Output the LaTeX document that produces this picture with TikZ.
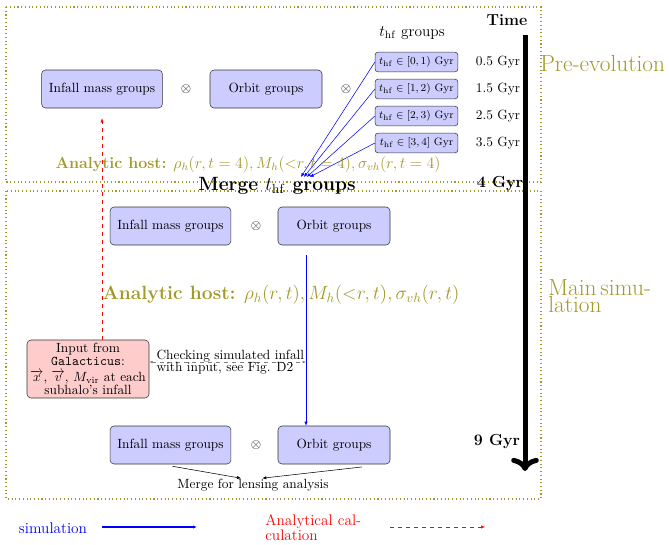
\documentclass[tikz,border=0pt]{standalone}
\usepackage{amsmath,amssymb}
\usetikzlibrary{arrows.meta, positioning, calc}
\definecolor{hostolive}{RGB}{163,152,40}
\definecolor{groupblue}{RGB}{204,204,255}
\definecolor{inputpink}{RGB}{255,204,204}

\tikzset{
  groupbox/.style={draw=black!80, fill=groupblue, rounded corners=3pt, minimum height=28.5pt, minimum width=84pt, inner xsep=5.5pt},
  thfbox/.style={draw=black!80, fill=groupblue, rounded corners=2pt, minimum height=14pt, minimum width=62pt, inner xsep=2pt, font=\footnotesize},
  phasebox/.style={draw=hostolive, dotted, thick},
  simarrow/.style={blue, -{Latex[length=3pt,width=2.5pt]}},
  calcarrow/.style={red, dashed, -{Latex[length=3pt,width=2.5pt]}},
  gyrlabel/.style={font=\large\bfseries},
}

\begin{document}
\begin{tikzpicture}[x=0.75pt, y=-0.75pt]
  \useasboundingbox (0,0) rectangle (669,544);
  % the two phases
  \draw[phasebox] (6,7) rectangle (541,182);
  \draw[phasebox] (6,191) rectangle (541,499);
  \node[text=hostolive, font=\fontsize{17.5}{17.5}\selectfont, anchor=west, inner sep=0pt] (pre) at (540,63) {Pre-evolution};
  \node[text=hostolive, font=\fontsize{17.5}{10.5}\selectfont, anchor=west, align=left, inner sep=0pt] (main) at (548,296) {Main\,simu-\\lation};

  % time axis
  \node[gyrlabel] (time) at (507,20) {Time};
  \coordinate (tstart) at (525,35);
  \coordinate (tend) at (525,471);
  \draw[line width=3.75pt, ->] (tstart) -- (tend);

  % pre-evolution
  \node[groupbox] (infall1) at (102,89) {Infall mass groups};
  \node (times1) at (186,89) {$\otimes$};
  \node[groupbox] (orbit1) at (266,89) {Orbit groups};
  \node (times2) at (346,89) {$\otimes$};
  \node[font=\fontsize{11.5}{12}\selectfont] (thflabel) at (412,33) {$t_{\rm hf}$ groups};
  \coordinate (mergein) at (298,177);
  \foreach \lo/\hi/\cl/\gyr [count=\i] in {0/1/)/0.5, 1/2/)/1.5, 2/3/)/2.5, 3/4/]/3.5} {
    \node[thfbox] (thf\i) at (416.5, 35+27*\i) {$t_{\rm hf}\in[\lo,\hi\cl$ Gyr};
    \node (gyr\i) at (498, 35+27*\i) {\gyr\ Gyr};
    \draw[simarrow] (thf\i.west) -- ([xshift=2.2*\i pt]mergein);
  }
  \node[text=hostolive, font=\large] (host1) at (248,164) {\textbf{Analytic host:} $\rho_h(r,t=4), M_h({<}r,t=4), \sigma_{vh}(r,t=4)$};
  \node[font=\Large\bfseries] (merge) at (277,186) {Merge $t_{\rm hf}$ groups};
  \node[gyrlabel] (gyr4) at (500,184) {4 Gyr};

  % main simulation
  \node[groupbox] (infall2) at (170.5,226) {Infall mass groups};
  \node (times3) at (256,226) {$\otimes$};
  \node[groupbox] (orbit2) at (334,226) {Orbit groups};
  \node[text=hostolive, font=\Large] (host2) at (281,295) {\textbf{Analytic host:} $\rho_h(r,t), M_h({<}r,t), \sigma_{vh}(r,t)$};
  \node[draw=black!80, fill=inputpink, rounded corners=3pt, minimum width=91.5pt, minimum height=43.5pt, align=center, inner sep=1pt, font=\fontsize{10}{9.6}\selectfont] (input) at (88,369) {Input from\\\texttt{Galacticus}:\\[2.5pt]$\overrightarrow{x}$, $\overrightarrow{v}$, $M_{\rm vir}$ at each\\subhalo's infall};

  \node[groupbox] (infall3) at (170.5,445) {Infall mass groups};
  \node (times4) at (256,445) {$\otimes$};
  \node[groupbox] (orbit3) at (334,445) {Orbit groups};
  \node[gyrlabel] (gyr9) at (497,442) {9 Gyr};
  \node (lensing) at (253,485) {Merge for lensing analysis};

  \draw[calcarrow] (input.north -| infall1.south) -- ([yshift=-7.5pt]infall1.south);
  \draw[simarrow] ([xshift=-21pt, yshift=-7pt]orbit2.south) -- ([xshift=-21pt]orbit3.north);
  \coordinate (checkend) at (306,362);
  \draw[gray, dashed, {Latex[length=2.5pt,width=2pt]}-{Latex[length=2.5pt,width=2pt]}] (input.east |- checkend) -- (checkend);
  \node[anchor=west, align=left, inner sep=1pt, font=\fontsize{10}{9}\selectfont] (check) at (155,362) {Checking simulated infall\\with input, see Fig. D2};
  \draw[-{Latex[length=3pt,width=2.5pt]}] ([xshift=1.5pt, yshift=-1.5pt]infall3.south) -- ([xshift=-9pt, yshift=-3pt]lensing.north);
  \draw[-{Latex[length=3pt,width=2.5pt]}] ([xshift=21pt, yshift=-2pt]orbit3.south) -- ([xshift=7pt, yshift=-3pt]lensing.north);

  % legend
  \node[blue, font=\fontsize{11.5}{11}\selectfont] (legsim) at (53,528) {simulation};
  \coordinate (legsimA) at (102,527);
  \coordinate (legsimB) at (197,527);
  \draw[simarrow, thick] (legsimA) -- (legsimB);
  \node[red, font=\fontsize{11.5}{10}\selectfont, anchor=west, align=left, inner sep=0pt] (legcalc) at (265,528) {Analytical cal-\\culation};
  \coordinate (legcalcA) at (390,527);
  \coordinate (legcalcB) at (485,527);
  \draw[calcarrow] (legcalcA) -- (legcalcB);
\end{tikzpicture}
\end{document}
